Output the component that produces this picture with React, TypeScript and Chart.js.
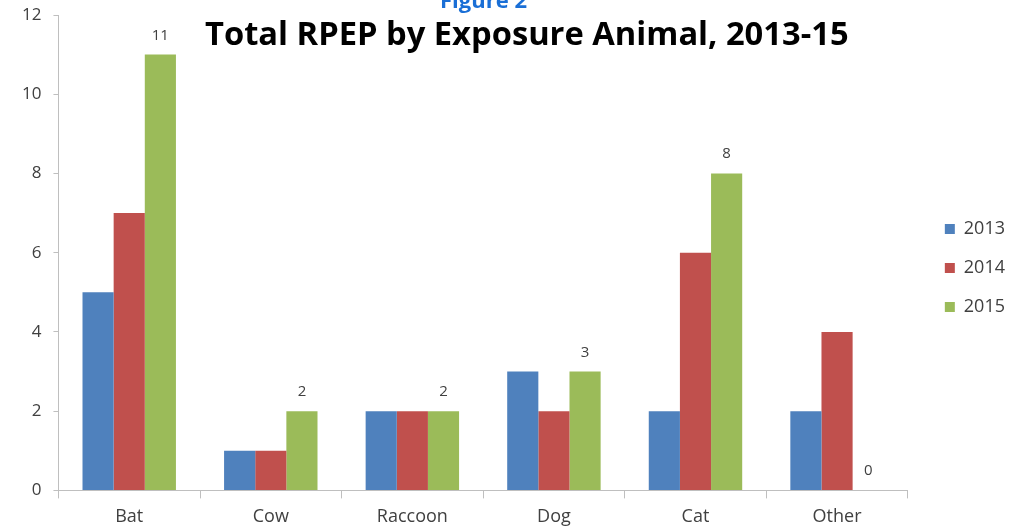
import React, { useEffect, useRef } from 'react';
import { Chart, registerables } from 'chart.js';

Chart.register(...registerables);

const animals = ['Bat', 'Cow', 'Raccoon', 'Dog', 'Cat', 'Other'];
const years = ['2013', '2014', '2015'];
const counts2013 = [5, 1, 2, 3, 2, 2];
const counts2014 = [7, 1, 2, 2, 6, 4];
const counts2015 = [11, 2, 2, 3, 8, 0];
const yTicks = [0, 2, 4, 6, 8, 10, 12];

const FONT = "'Open Sans', 'Liberation Sans', sans-serif";

// value labels drawn only above the 2015 bars
const labels2015 = {
  id: 'labels2015',
  afterDatasetsDraw(chart: Chart) {
    const { ctx } = chart;
    const meta = chart.getDatasetMeta(2);
    ctx.save();
    ctx.fillStyle = '#404040';
    ctx.font = `15px ${FONT}`;
    ctx.textAlign = 'center';
    ctx.textBaseline = 'alphabetic';
    meta.data.forEach((bar: any, i: number) => {
      ctx.fillText(String(counts2015[i]), bar.x, bar.y - 15);
    });
    ctx.restore();
  },
};

const App: React.FC = () => {
  const canvasRef = useRef<HTMLCanvasElement>(null);
  const chartRef = useRef<Chart | null>(null);

  useEffect(() => {
    if (!canvasRef.current) return;
    if (chartRef.current) chartRef.current.destroy();

    chartRef.current = new Chart(canvasRef.current, {
      type: 'bar',
      data: {
        labels: animals,
        datasets: [
          { label: years[0], data: counts2013, backgroundColor: '#4f81bd' },
          { label: years[1], data: counts2014, backgroundColor: '#c0504d' },
          { label: years[2], data: counts2015, backgroundColor: '#9bbb59' },
        ],
      },
      options: {
        responsive: true,
        maintainAspectRatio: false,
        animation: false,
        layout: { padding: { top: 0, left: 10, right: 6, bottom: -6 } },
        datasets: {
          bar: { categoryPercentage: 0.66, barPercentage: 1 },
        },
        plugins: {
          legend: {
            position: 'right',
            labels: {
              boxWidth: 10,
              boxHeight: 10,
              padding: 21,
              color: '#404040',
              font: { family: FONT, size: 18 },
            },
          },
          tooltip: { enabled: false },
        },
        scales: {
          x: {
            grid: {
              drawOnChartArea: false,
              tickLength: 8,
              color: '#bfbfbf',
              offset: true,
            },
            border: { color: '#bfbfbf' },
            ticks: {
              color: '#404040',
              padding: 8,
              font: { family: FONT, size: 18 },
            },
          },
          y: {
            min: 0,
            max: 12,
            afterBuildTicks: (axis: any) => {
              axis.ticks = yTicks.map(v => ({ value: v }));
            },
            afterFit: (scale: any) => {
              scale.paddingTop = 15;
            },
            grid: {
              drawOnChartArea: false,
              tickLength: 5,
              color: '#bfbfbf',
            },
            border: { color: '#bfbfbf' },
            ticks: {
              color: '#404040',
              padding: 12,
              font: { family: FONT, size: 17 },
            },
          },
          // empty spacer between the plot and the legend
          gap: {
            type: 'linear',
            position: 'right',
            grid: { display: false },
            border: { display: false },
            ticks: { display: false },
            afterFit: (scale: any) => {
              scale.width = 16;
            },
          },
        },
      },
      plugins: [labels2015],
    });

    return () => {
      if (chartRef.current) {
        chartRef.current.destroy();
        chartRef.current = null;
      }
    };
  }, []);

  return (
    <div
      style={{
        position: 'fixed',
        left: 0,
        top: 0,
        width: 1021,
        height: 530,
        background: '#fff',
        overflow: 'hidden',
      }}
    >
      <div style={{ position: 'absolute', inset: 0 }}>
        <canvas ref={canvasRef}></canvas>
      </div>
      <div
        style={{
          position: 'absolute',
          left: 440,
          top: -16,
          fontFamily: FONT,
          fontWeight: 700,
          fontSize: 22,
          color: '#1a6fd6',
          whiteSpace: 'nowrap',
        }}
      >
        Figure 2
      </div>
      <div
        style={{
          position: 'absolute',
          left: 205,
          top: 10,
          fontFamily: FONT,
          fontWeight: 700,
          fontSize: 32.7,
          lineHeight: 'normal',
          color: '#000',
          whiteSpace: 'nowrap',
        }}
      >
        Total RPEP by Exposure Animal, 2013-15
      </div>
    </div>
  );
};

export default App;
